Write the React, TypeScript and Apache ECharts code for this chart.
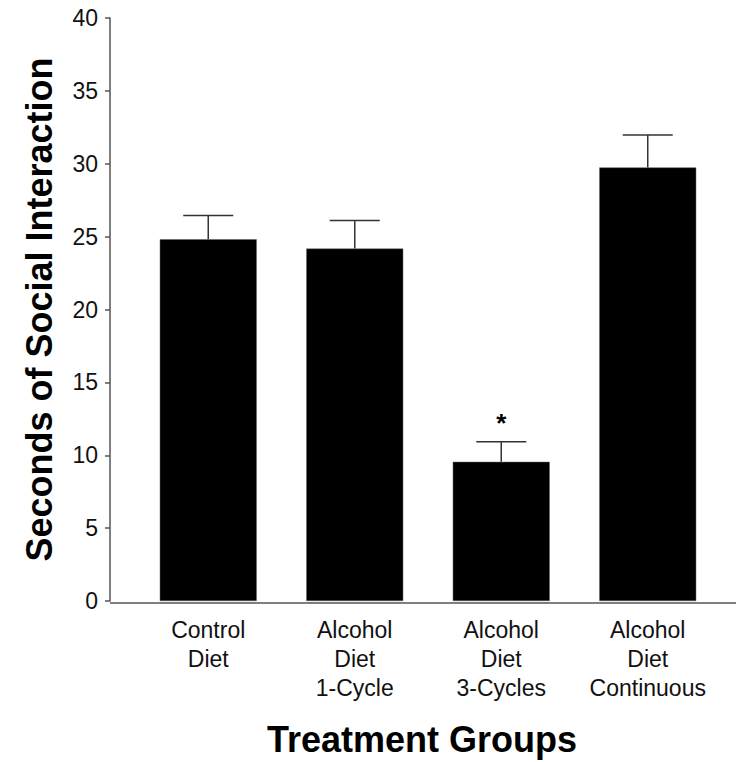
import React, { useEffect, useRef } from "react";
import * as echarts from "echarts";

const categories = ["Control\nDiet", "Alcohol\nDiet\n1-Cycle", "Alcohol\nDiet\n3-Cycles", "Alcohol\nDiet\nContinuous"];
const means = [24.82, 24.18, 9.55, 29.75];
const errors = [1.63, 1.93, 1.37, 2.23];
const significance = ["", "", "*", ""];
const yTicks = [0, 5, 10, 15, 20, 25, 30, 35, 40];

export default function App() {
  const ref = useRef<HTMLDivElement>(null);
  useEffect(() => {
    if (!ref.current) return;
    const chart = echarts.init(ref.current, null, { renderer: "svg" });
    const font = "Liberation Sans, Arial, sans-serif";
    chart.setOption({
      animation: false,
      backgroundColor: "#fff",
      textStyle: { fontFamily: font },
      grid: { left: 135, right: 15, top: 18, bottom: 159, containLabel: false },
      xAxis: {
        type: "category",
        data: categories,
        axisLine: { show: false },
        axisTick: { show: false },
        axisLabel: {
          interval: 0,
          fontSize: 23,
          lineHeight: 29,
          color: "#111",
          fontFamily: font,
          margin: 14,
          verticalAlign: "top",
        },
        name: "Treatment Groups",
        nameLocation: "middle",
        nameGap: 120,
        nameTextStyle: {
          fontSize: 36,
          fontWeight: "bold",
          color: "#000",
          fontFamily: font,
          padding: [0, 12, 0, 0],
        },
      },
      yAxis: {
        type: "value",
        min: yTicks[0],
        max: yTicks[yTicks.length - 1],
        interval: 5,
        offset: 25,
        axisLine: { show: true, lineStyle: { color: "#555", width: 1.5 } },
        axisTick: { show: true, length: 5, lineStyle: { color: "#555", width: 1.5 } },
        splitLine: { show: false },
        axisLabel: { fontSize: 23, color: "#111", fontFamily: font, margin: 12 },
        name: "Seconds of Social Interaction",
        nameLocation: "middle",
        nameGap: 53,
        nameTextStyle: { fontSize: 36, fontWeight: "bold", color: "#000", fontFamily: font },
      },
      graphic: [
        {
          type: "line",
          shape: { x1: 110, y1: 603, x2: 736, y2: 603 },
          style: { stroke: "#555", lineWidth: 1.5 },
          z: 10,
        },
      ],
      series: [
        {
          type: "bar",
          data: means,
          barWidth: 97,
          itemStyle: { color: "#000", borderColor: "#666", borderWidth: 0.5 },
        },
        {
          type: "custom",
          data: means.map((m, i) => [i, m, m + errors[i]]),
          encode: { x: 0, y: [1, 2] },
          z: 5,
          renderItem: (params: any, api: any) => {
            const i = api.value(0);
            const p0 = api.coord([i, api.value(1)]);
            const p1 = api.coord([i, api.value(2)]);
            const children: any[] = [
              {
                type: "line",
                shape: { x1: p0[0], y1: p0[1], x2: p1[0], y2: p1[1] },
                style: { stroke: "#333", lineWidth: 1.5 },
              },
              {
                type: "line",
                shape: { x1: p1[0] - 25, y1: p1[1], x2: p1[0] + 25, y2: p1[1] },
                style: { stroke: "#333", lineWidth: 1.5 },
              },
            ];
            if (significance[i]) {
              children.push({
                type: "text",
                x: p1[0],
                y: p1[1] - 6,
                style: {
                  text: significance[i],
                  fontSize: 26,
                  fontWeight: "bold",
                  fill: "#000",
                  fontFamily: font,
                  align: "center",
                  verticalAlign: "bottom",
                },
              });
            }
            return { type: "group", children };
          },
        },
      ],
    });
    return () => chart.dispose();
  }, []);
  return (
    <div
      ref={ref}
      style={{ position: "fixed", left: 0, top: 0, width: 736, height: 762, background: "#fff" }}
    />
  );
}
